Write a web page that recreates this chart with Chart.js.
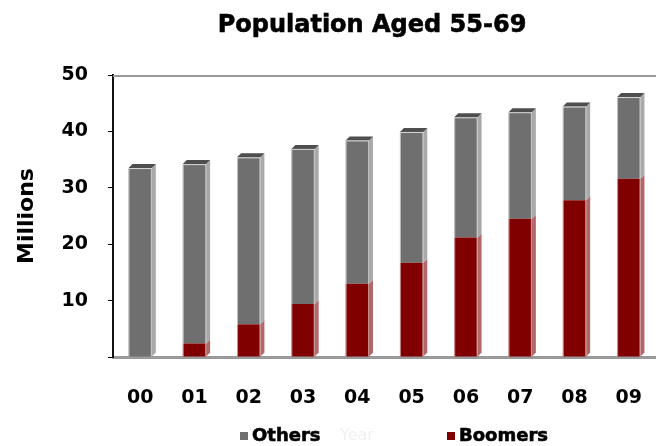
<!DOCTYPE html>
<html>
<head>
<meta charset="utf-8">
<script src="https://cdn.jsdelivr.net/npm/chart.js@4/dist/chart.umd.min.js"></script>
<style>
  html, body { margin: 0; padding: 0; background: #ffffff; overflow: hidden; }
  #wrap { width: 672px; height: 446px; position: relative; }
</style>
</head>
<body>
<div id="wrap"><canvas id="chart" width="672" height="446"></canvas></div>
<script>
// Years 2000-2009, population aged 55-69 (millions)
const years = ['00', '01', '02', '03', '04', '05', '06', '07', '08', '09'];
const boomers = [0, 2.4, 5.8, 9.4, 13.0, 16.7, 21.2, 24.5, 27.8, 31.6];
const others = [33.5, 31.8, 29.6, 27.5, 25.4, 23.2, 21.3, 18.9, 16.6, 14.5];
const yTicks = [10, 20, 30, 40, 50];

const titleText = 'Population Aged 55-69';
const axisTitleY = 'Millions';
const axisTitleX = 'Year';

const FONT = '"DejaVu Sans", "Liberation Sans", Arial, sans-serif';
const COLORS = {
  boomers: { front: '#800000', side: '#b06868' },
  others:  { front: '#6f6f6f', side: '#a9a9a9', top: '#4e4e4e' },
  frame: '#999999'
};
const DEPTH = 4;

// Frame line along the top of the plot area
const frameTop = {
  id: 'frameTop',
  beforeDatasetsDraw(chart) {
    const { ctx, chartArea } = chart;
    ctx.save();
    ctx.strokeStyle = COLORS.frame;
    ctx.lineWidth = 2;
    ctx.beginPath();
    ctx.moveTo(chartArea.left, chartArea.top + 1);
    ctx.lineTo(chartArea.right, chartArea.top + 1);
    ctx.stroke();
    ctx.restore();
  }
};

// Extruded side and cap faces for each bar segment
const bar3d = {
  id: 'bar3d',
  afterDatasetsDraw(chart) {
    const ctx = chart.ctx;
    const last = chart.data.datasets.length - 1;
    ctx.save();
    chart.data.datasets.forEach((ds, di) => {
      const meta = chart.getDatasetMeta(di);
      const style = di === 0 ? COLORS.boomers : COLORS.others;
      meta.data.forEach((bar) => {
        const { x, y, base, width } = bar.getProps(['x', 'y', 'base', 'width'], true);
        const l = x - width / 2, r = x + width / 2;
        if (Math.abs(base - y) < 0.5) return;
        ctx.fillStyle = style.side;
        ctx.beginPath();
        ctx.moveTo(r, y);
        ctx.lineTo(r + DEPTH, y - DEPTH);
        ctx.lineTo(r + DEPTH, base - DEPTH);
        ctx.lineTo(r, base);
        ctx.closePath();
        ctx.fill();
        // thin highlight along the front edges
        ctx.strokeStyle = 'rgba(255,255,255,0.55)';
        ctx.lineWidth = 1;
        ctx.beginPath();
        ctx.moveTo(l + 0.5, base); ctx.lineTo(l + 0.5, y);
        ctx.moveTo(r - 0.5, base); ctx.lineTo(r - 0.5, y);
        ctx.stroke();
        if (di === last) {
          ctx.fillStyle = COLORS.others.top;
          ctx.beginPath();
          ctx.moveTo(l, y);
          ctx.lineTo(l + DEPTH, y - DEPTH);
          ctx.lineTo(r + DEPTH, y - DEPTH);
          ctx.lineTo(r, y);
          ctx.closePath();
          ctx.fill();
          ctx.strokeStyle = '#d8d8d8';
          ctx.beginPath();
          ctx.moveTo(l, y + 0.5); ctx.lineTo(r, y + 0.5);
          ctx.stroke();
        }
      });
    });
    ctx.restore();
  }
};

// Chart heading, legend row and the faint x-axis caption
const headings = {
  id: 'headings',
  afterDraw(chart) {
    const ctx = chart.ctx;
    ctx.save();
    ctx.fillStyle = '#000';
    ctx.strokeStyle = '#000';
    ctx.lineWidth = 0.6;
    ctx.textAlign = 'center';
    ctx.textBaseline = 'middle';
    ctx.font = 'bold 24px ' + FONT;
    ctx.fillText(titleText, 372, 26);
    ctx.strokeText(titleText, 372, 26);

    ctx.textAlign = 'left';
    ctx.font = 'bold 18px ' + FONT;
    const legendY = 436;
    const items = [
      { text: chart.data.datasets[1].label, color: COLORS.others.front, x: 240 },
      { text: chart.data.datasets[0].label, color: COLORS.boomers.front, x: 447 }
    ];
    items.forEach((it) => {
      ctx.fillStyle = it.color;
      ctx.fillRect(it.x, legendY - 4, 8, 8);
      ctx.fillStyle = '#000';
      ctx.fillText(it.text, it.x + 12, legendY);
      ctx.strokeText(it.text, it.x + 12, legendY);
    });
    ctx.fillStyle = '#f1f1f1';
    ctx.font = '16px ' + FONT;
    ctx.fillText(axisTitleX, 340, legendY);
    ctx.restore();
  }
};

new Chart(document.getElementById('chart'), {
  type: 'bar',
  data: {
    labels: years,
    datasets: [
      { label: 'Boomers', data: boomers, backgroundColor: COLORS.boomers.front, borderWidth: 0 },
      { label: 'Others', data: others, backgroundColor: COLORS.others.front, borderWidth: 0 }
    ]
  },
  options: {
    responsive: false,
    animation: false,
    layout: { padding: { top: 75, right: 0, bottom: 0, left: 0 } },
    datasets: { bar: { barPercentage: 0.43, categoryPercentage: 1.0 } },
    plugins: {
      legend: { display: false },
      title: { display: false },
      tooltip: { enabled: false }
    },
    scales: {
      x: {
        stacked: true,
        grid: { display: false, drawTicks: false },
        border: { display: true, color: '#9a9a9a', width: 3 },
        ticks: { color: '#000', padding: 30, font: { family: FONT, size: 19, weight: 'bold' } },
        afterFit(scale) { scale.height = 89; }
      },
      y: {
        stacked: true,
        min: 0,
        max: 50,
        afterBuildTicks(scale) { scale.ticks = [0].concat(yTicks).map(v => ({ value: v })); },
        ticks: {
          color: '#000',
          padding: 20,
          font: { family: FONT, size: 19, weight: 'bold' },
          callback: (v) => (v === 0 ? '' : String(v))
        },
        grid: {
          drawTicks: true,
          drawOnChartArea: false,
          tickLength: 5,
          tickColor: '#000'
        },
        border: { display: true, color: '#111', width: 2 },
        title: {
          display: true,
          text: axisTitleY,
          color: '#000',
          padding: { top: 14, bottom: 0 },
          font: { family: FONT, size: 22, weight: 'bold' }
        },
        afterFit(scale) { scale.width = 113; }
      }
    }
  },
  plugins: [frameTop, bar3d, headings]
});
</script>
</body>
</html>
